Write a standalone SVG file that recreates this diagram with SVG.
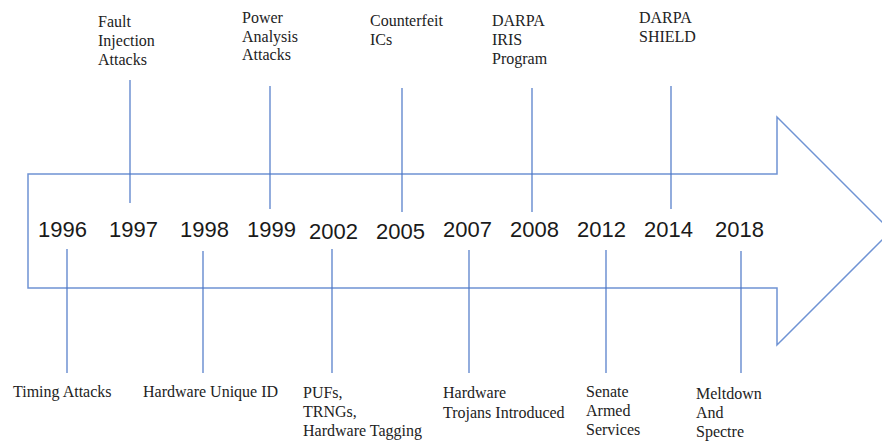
<svg xmlns="http://www.w3.org/2000/svg" width="882" height="444" viewBox="0 0 882 444">
<style>
.bg{fill:#fff}
.arrow{fill:#fff;stroke:#6f93d4;stroke-width:1.5}
.tick{stroke:#4a76c6;stroke-width:1.2;fill:none}
.yr{font-family:"Liberation Sans",Arial,sans-serif;font-size:22px;fill:#1a1a1a}
.lb{font-family:"Liberation Serif","Times New Roman",serif;font-size:16px;fill:#222}
</style>
<rect class="bg" x="0" y="0" width="882" height="444"/>
<g id="arrow">
<path class="arrow" d="M28,174 H777 V117 L891,231 L777,345 V288 H28 Z"/>
</g>
<g id="connectors">
<line class="tick" x1="130" y1="80" x2="130" y2="203"/>
<line class="tick" x1="270" y1="86" x2="270" y2="209"/>
<line class="tick" x1="402" y1="88" x2="402" y2="212"/>
<line class="tick" x1="532" y1="88" x2="532" y2="212"/>
<line class="tick" x1="671" y1="86" x2="671" y2="209"/>
<line class="tick" x1="67" y1="249" x2="67" y2="373"/>
<line class="tick" x1="203" y1="251" x2="203" y2="373"/>
<line class="tick" x1="332" y1="249" x2="332" y2="373"/>
<line class="tick" x1="469" y1="250" x2="469" y2="373"/>
<line class="tick" x1="606" y1="250" x2="606" y2="373"/>
<line class="tick" x1="741" y1="251" x2="741" y2="373"/>
</g>
<g id="years">
<text class="yr" x="38" y="237">1996</text>
<text class="yr" x="109" y="237">1997</text>
<text class="yr" x="180" y="237">1998</text>
<text class="yr" x="247" y="237">1999</text>
<text class="yr" x="309" y="239">2002</text>
<text class="yr" x="376" y="239">2005</text>
<text class="yr" x="443" y="237">2007</text>
<text class="yr" x="510" y="237">2008</text>
<text class="yr" x="577" y="237">2012</text>
<text class="yr" x="644" y="237">2014</text>
<text class="yr" x="715" y="237">2018</text>
</g>
<g id="n1997"><text class="lb" x="98" y="27">Fault</text><text class="lb" x="98" y="46">Injection</text><text class="lb" x="98" y="64.5">Attacks</text></g>
<g id="n1999"><text class="lb" x="242" y="23">Power</text><text class="lb" x="242" y="42">Analysis</text><text class="lb" x="242" y="60">Attacks</text></g>
<g id="n2005"><text class="lb" x="370" y="26">Counterfeit</text><text class="lb" x="370" y="45">ICs</text></g>
<g id="n2008"><text class="lb" x="492" y="26">DARPA</text><text class="lb" x="492" y="45">IRIS</text><text class="lb" x="492" y="64">Program</text></g>
<g id="n2014"><text class="lb" x="639" y="23">DARPA</text><text class="lb" x="639" y="42">SHIELD</text></g>
<g id="n1996"><text class="lb" x="13" y="397">Timing Attacks</text></g>
<g id="n1998"><text class="lb" x="143" y="397">Hardware Unique ID</text></g>
<g id="n2002"><text class="lb" x="303" y="398">PUFs,</text><text class="lb" x="303" y="417">TRNGs,</text><text class="lb" x="303" y="436">Hardware Tagging</text></g>
<g id="n2007"><text class="lb" x="443" y="398">Hardware</text><text class="lb" x="443" y="418">Trojans Introduced</text></g>
<g id="n2012"><text class="lb" x="586" y="397">Senate</text><text class="lb" x="586" y="416">Armed</text><text class="lb" x="586" y="435">Services</text></g>
<g id="n2018"><text class="lb" x="696" y="399">Meltdown</text><text class="lb" x="696" y="418">And</text><text class="lb" x="696" y="437">Spectre</text></g>
</svg>
